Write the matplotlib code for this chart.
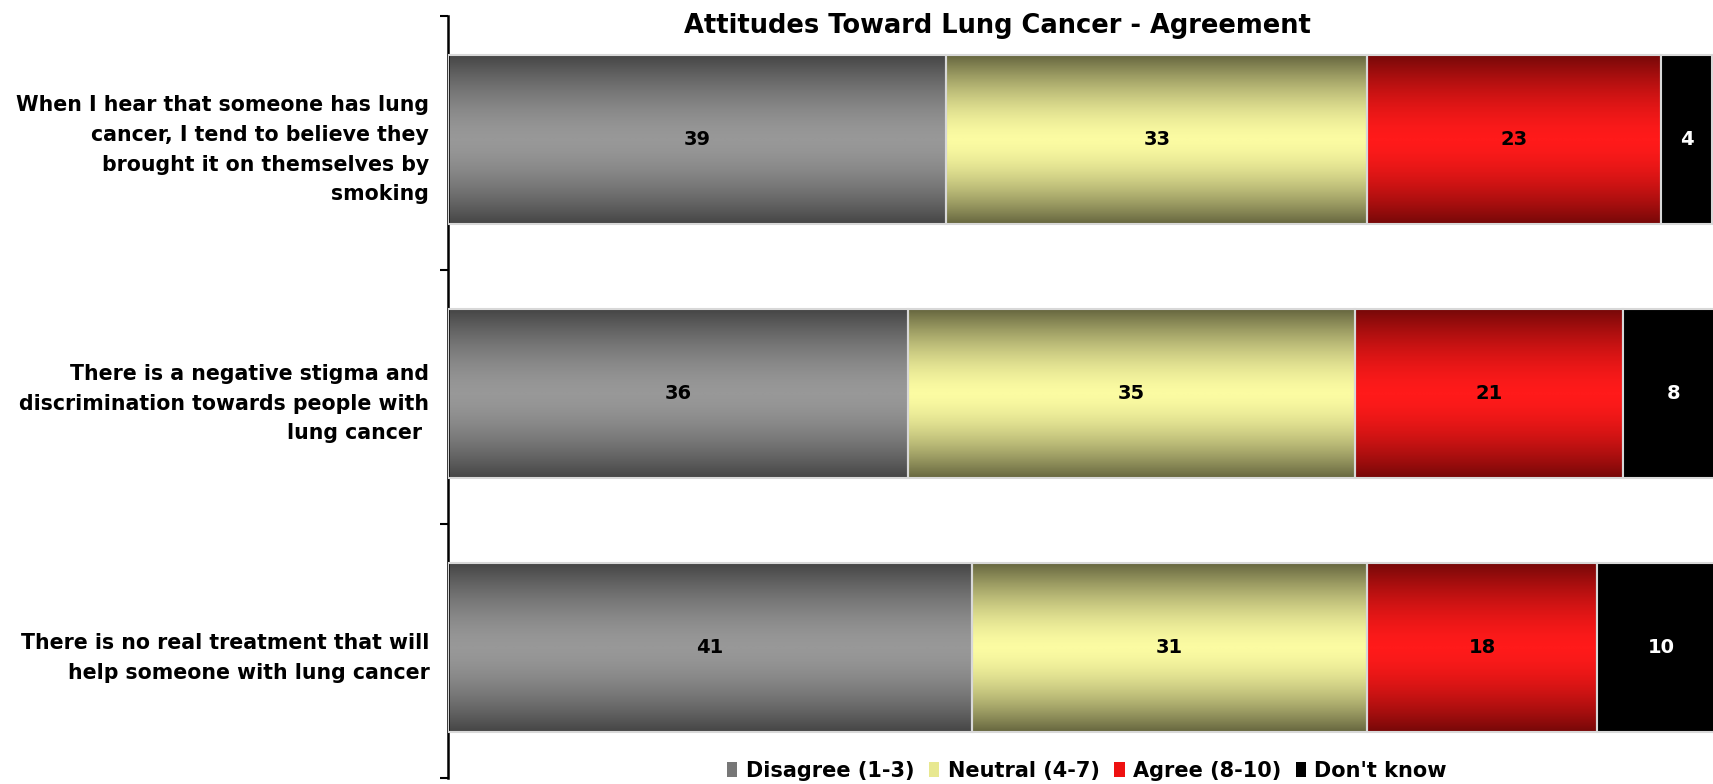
import matplotlib.pyplot as plt
import numpy as np
from matplotlib.colors import LinearSegmentedColormap
from matplotlib.patches import Patch

statements = ['When I hear that someone has lung\ncancer, I tend to believe they\nbrought it on themselves by\nsmoking',
              'There is a negative stigma and\ndiscrimination towards people with\nlung cancer ',
              'There is no real treatment that will\nhelp someone with lung cancer']
series = ['Disagree (1-3)', 'Neutral (4-7)', 'Agree (8-10)', "Don't know"]
disagree = [39, 36, 41]
neutral = [33, 35, 31]
agree = [23, 21, 18]
dont_know = [4, 8, 10]

# (centre colour, edge colour) of the vertical gradient; None = flat fill
shades = [('#989898', '#454545'),
          ('#fbfba2', '#66663f'),
          ('#ff1a1a', '#760808'),
          None]
label_colors = ['black', 'black', 'black', 'white']

fig = plt.figure(figsize=(17.13, 7.84), dpi=100)
ax = fig.add_axes([448/1713, 6/784, 1265/1713, 762/784])

y = np.arange(len(statements))
ybar = y - 0.012  # bars sit a touch above the category centre
t = np.linspace(0, 1, 256)
profile = (np.abs(t - 0.5)*2)**1.6
left = np.zeros(len(statements))
for vals, name, shade, lc in zip([disagree, neutral, agree, dont_know], series, shades, label_colors):
    vals = np.array(vals)
    if shade is None:
        bars = ax.barh(ybar, vals, left=left, height=0.665, color='black',
                       edgecolor='#d8d8d8', linewidth=1.5, zorder=3)
    else:
        bars = ax.barh(ybar, vals, left=left, height=0.665, color='none',
                       edgecolor='#d8d8d8', linewidth=1.5, zorder=3)
        cmap = LinearSegmentedColormap.from_list(name, [shade[0], shade[1]])
        for b in bars:
            x0, y0 = b.get_x(), b.get_y()
            im = ax.imshow(profile.reshape(-1, 1), extent=[x0, x0 + b.get_width(), y0 + b.get_height(), y0],
                           aspect='auto', cmap=cmap, vmin=0, vmax=1, zorder=2, interpolation='bilinear')
            im.set_clip_path(b)
    for b, v in zip(bars, vals):
        ax.text(b.get_x() + b.get_width()/2, b.get_y() + b.get_height()/2, str(v),
                ha='center', va='center', fontsize=14, fontweight='bold', color=lc, zorder=4)
    left += vals

ax.set_xlim(0, 99.06)
ax.set_ylim(2.5, -0.5)
ax.set_yticks(y)
ax.set_yticklabels(statements, fontsize=14.8, fontweight='bold', linespacing=1.6)
ax.set_yticks([-0.5, 0.5, 1.5, 2.5], minor=True)
ax.tick_params(axis='y', which='major', length=0, pad=13.5)
ax.tick_params(axis='y', which='minor', length=6, width=1.5, direction='out')
ax.set_xticks([])
for s in ['top', 'right', 'bottom']:
    ax.spines[s].set_visible(False)
ax.spines['left'].set_linewidth(1.8)

fig.text(997/1713, 1 - 26/784, 'Attitudes Toward Lung Cancer - Agreement',
         ha='center', va='center', fontsize=18.5, fontweight='bold')

handles = [Patch(facecolor=c, edgecolor='none') for c in ['#777777', '#e8e890', '#ee1111', 'black']]
fig.legend(handles, series, loc='center', bbox_to_anchor=(1087/1713, 13/784), ncol=4,
           frameon=False, prop={'size': 15, 'weight': 'bold'}, handlelength=0.5, handleheight=0.7,
           handletextpad=0.4, columnspacing=0.7)

fig.savefig('out.png', dpi=100)
